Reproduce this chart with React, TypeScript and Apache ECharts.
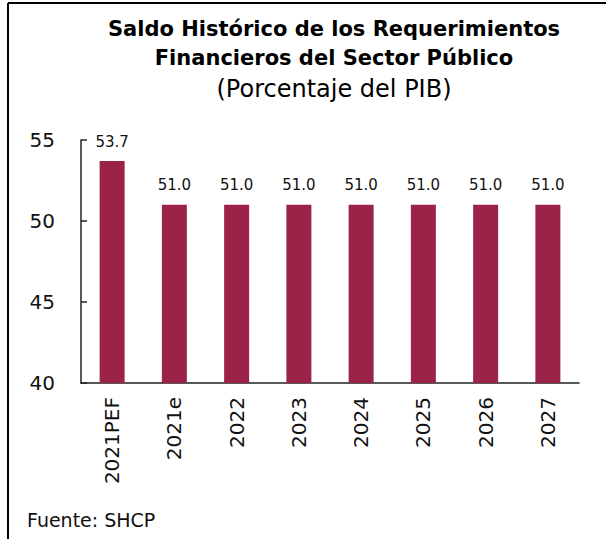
import React, { useEffect, useRef } from "react";
import * as echarts from "echarts";

const categories = ["2021PEF", "2021e", "2022", "2023", "2024", "2025", "2026", "2027"];
const values = [53.7, 51.0, 51.0, 51.0, 51.0, 51.0, 51.0, 51.0];
const titleLines = ["Saldo Histórico de los Requerimientos", "Financieros del Sector Público"];
const subtitle = "(Porcentaje del PIB)";
const source = "Fuente: SHCP";

const FONT = "'DejaVu Sans', 'Open Sans', sans-serif";

export default function App() {
  const ref = useRef<HTMLDivElement>(null);
  useEffect(() => {
    const chart = echarts.init(ref.current!, null, { renderer: "svg" });
    chart.setOption({
      animation: false,
      backgroundColor: "#ffffff",
      grid: { left: 81, right: 27, top: 140, bottom: 156, containLabel: false },
      xAxis: {
        type: "category",
        data: categories,
        axisLine: { show: true, lineStyle: { color: "#222", width: 1.5 } },
        axisTick: { show: false },
        axisLabel: {
          rotate: 90,
          margin: 14,
          fontSize: 20,
          color: "#111",
          fontFamily: FONT,
        },
      },
      yAxis: {
        type: "value",
        min: 40,
        max: 55,
        interval: 5,
        splitLine: { show: false },
        axisLine: { show: true, lineStyle: { color: "#222", width: 1.5 } },
        axisTick: { show: true, inside: true, length: 6, lineStyle: { color: "#222", width: 1.5 } },
        axisLabel: { fontSize: 20, color: "#111", margin: 26, fontFamily: FONT },
      },
      series: [
        {
          type: "bar",
          data: values,
          barWidth: 25,
          itemStyle: { color: "#9b2348" },
          label: {
            show: true,
            position: "top",
            distance: 12,
            fontSize: 15,
            color: "#111",
            fontFamily: FONT,
            formatter: (p: any) => Number(p.value).toFixed(1),
          },
        },
      ],
      graphic: [
        { type: "line", shape: { x1: 8, y1: 3, x2: 606, y2: 3 }, style: { stroke: "#000", lineWidth: 2 } },
        { type: "line", shape: { x1: 8, y1: 3, x2: 8, y2: 539 }, style: { stroke: "#000", lineWidth: 2 } },
        ...titleLines.map((t, i) => ({
          type: "text",
          x: 334,
          y: 29 + i * 29,
          style: {
            text: t,
            fontSize: 21,
            fontWeight: "bold",
            fontFamily: FONT,
            fill: "#000",
            align: "center",
            verticalAlign: "middle",
          },
        })),
        {
          type: "text",
          x: 334,
          y: 89,
          style: {
            text: subtitle,
            fontSize: 24,
            fontFamily: FONT,
            fill: "#000",
            align: "center",
            verticalAlign: "middle",
          },
        },
        {
          type: "text",
          x: 27,
          y: 520,
          style: {
            text: source,
            fontSize: 19,
            fontFamily: FONT,
            fill: "#111",
            align: "left",
            verticalAlign: "middle",
          },
        },
      ],
    });
    return () => chart.dispose();
  }, []);
  return <div ref={ref} style={{ width: 606, height: 539, position: "absolute", left: 0, top: 0 }} />;
}
